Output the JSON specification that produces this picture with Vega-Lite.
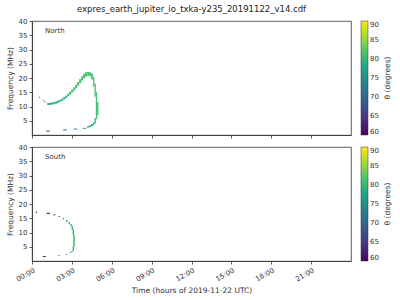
{
  "$schema": "https://vega.github.io/schema/vega-lite/v6.json",
  "padding": {"left": 5, "top": 4, "right": 5, "bottom": 5},
  "datasets": {
    "north": [
      {"t0": 0.0, "t1": 0.12, "f0": 14.1, "f1": 14.45, "theta": 71},
      {"t0": 0.52, "t1": 0.6, "f0": 13.1, "f1": 13.45, "theta": 72},
      {"t0": 0.8, "t1": 0.88, "f0": 12.1, "f1": 12.45, "theta": 73},
      {"t0": 0.93, "t1": 1.02, "f0": 11.5, "f1": 11.9, "theta": 75},
      {"t0": 1.15, "t1": 1.3, "f0": 10.5, "f1": 11.2, "theta": 77},
      {"t0": 1.3, "t1": 1.45, "f0": 10.6, "f1": 11.3, "theta": 77},
      {"t0": 1.45, "t1": 1.6, "f0": 10.7, "f1": 11.4, "theta": 78},
      {"t0": 1.6, "t1": 1.75, "f0": 10.8, "f1": 11.6, "theta": 78},
      {"t0": 1.75, "t1": 1.9, "f0": 11.0, "f1": 11.8, "theta": 79},
      {"t0": 1.9, "t1": 2.05, "f0": 11.3, "f1": 12.1, "theta": 79},
      {"t0": 2.05, "t1": 2.2, "f0": 11.6, "f1": 12.4, "theta": 80},
      {"t0": 2.2, "t1": 2.35, "f0": 12.0, "f1": 12.8, "theta": 80},
      {"t0": 2.35, "t1": 2.5, "f0": 12.5, "f1": 13.3, "theta": 80},
      {"t0": 2.5, "t1": 2.65, "f0": 13.0, "f1": 13.8, "theta": 80},
      {"t0": 2.65, "t1": 2.8, "f0": 13.6, "f1": 14.5, "theta": 80},
      {"t0": 2.8, "t1": 2.95, "f0": 14.2, "f1": 15.2, "theta": 80},
      {"t0": 2.95, "t1": 3.1, "f0": 14.9, "f1": 15.9, "theta": 81},
      {"t0": 3.1, "t1": 3.25, "f0": 15.6, "f1": 16.7, "theta": 81},
      {"t0": 3.25, "t1": 3.4, "f0": 16.4, "f1": 17.6, "theta": 81},
      {"t0": 3.4, "t1": 3.55, "f0": 17.3, "f1": 18.6, "theta": 81},
      {"t0": 3.55, "t1": 3.7, "f0": 18.2, "f1": 19.6, "theta": 81},
      {"t0": 3.7, "t1": 3.85, "f0": 19.1, "f1": 20.6, "theta": 81},
      {"t0": 3.85, "t1": 4.0, "f0": 19.9, "f1": 21.4, "theta": 81},
      {"t0": 4.0, "t1": 4.15, "f0": 20.5, "f1": 22.0, "theta": 81},
      {"t0": 4.15, "t1": 4.3, "f0": 20.8, "f1": 22.1, "theta": 81},
      {"t0": 4.3, "t1": 4.45, "f0": 20.6, "f1": 22.0, "theta": 81},
      {"t0": 4.45, "t1": 4.6, "f0": 19.5, "f1": 21.5, "theta": 81},
      {"t0": 4.6, "t1": 4.7, "f0": 17.0, "f1": 20.2, "theta": 81},
      {"t0": 4.7, "t1": 4.8, "f0": 13.5, "f1": 18.0, "theta": 81},
      {"t0": 4.8, "t1": 4.9, "f0": 8.5, "f1": 15.0, "theta": 81},
      {"t0": 4.9, "t1": 5.0, "f0": 7.0, "f1": 11.5, "theta": 81},
      {"t0": 4.8, "t1": 4.9, "f0": 5.5, "f1": 8.5, "theta": 81},
      {"t0": 4.7, "t1": 4.8, "f0": 4.0, "f1": 6.0, "theta": 80},
      {"t0": 4.6, "t1": 4.7, "f0": 3.5, "f1": 4.6, "theta": 80},
      {"t0": 4.45, "t1": 4.6, "f0": 3.1, "f1": 3.9, "theta": 79},
      {"t0": 4.3, "t1": 4.45, "f0": 2.8, "f1": 3.4, "theta": 78},
      {"t0": 4.15, "t1": 4.3, "f0": 2.6, "f1": 3.1, "theta": 77},
      {"t0": 3.8, "t1": 4.1, "f0": 2.2, "f1": 2.5, "theta": 76},
      {"t0": 3.15, "t1": 3.4, "f0": 1.9, "f1": 2.25, "theta": 73},
      {"t0": 2.35, "t1": 2.62, "f0": 1.6, "f1": 1.95, "theta": 70},
      {"t0": 1.05, "t1": 1.35, "f0": 1.2, "f1": 1.55, "theta": 67}
    ],
    "south": [
      {"t0": 0.28, "t1": 0.38, "f0": 16.9, "f1": 17.3, "theta": 61},
      {"t0": 1.1, "t1": 1.35, "f0": 16.5, "f1": 16.9, "theta": 62},
      {"t0": 1.62, "t1": 1.75, "f0": 16.0, "f1": 16.4, "theta": 65},
      {"t0": 2.0, "t1": 2.1, "f0": 15.4, "f1": 15.8, "theta": 68},
      {"t0": 2.3, "t1": 2.4, "f0": 14.6, "f1": 15.0, "theta": 71},
      {"t0": 2.55, "t1": 2.68, "f0": 13.8, "f1": 14.3, "theta": 73},
      {"t0": 2.75, "t1": 2.85, "f0": 13.0, "f1": 13.6, "theta": 75},
      {"t0": 2.88, "t1": 2.98, "f0": 12.2, "f1": 13.0, "theta": 77},
      {"t0": 2.98, "t1": 3.08, "f0": 11.0, "f1": 12.3, "theta": 79},
      {"t0": 3.06, "t1": 3.16, "f0": 9.0, "f1": 11.2, "theta": 80},
      {"t0": 3.1, "t1": 3.22, "f0": 5.0, "f1": 9.2, "theta": 81},
      {"t0": 3.06, "t1": 3.16, "f0": 3.6, "f1": 5.2, "theta": 80},
      {"t0": 2.98, "t1": 3.06, "f0": 3.2, "f1": 3.7, "theta": 78},
      {"t0": 2.85, "t1": 2.95, "f0": 2.8, "f1": 3.2, "theta": 76},
      {"t0": 2.55, "t1": 2.65, "f0": 2.2, "f1": 2.5, "theta": 72},
      {"t0": 1.98, "t1": 2.08, "f0": 1.8, "f1": 2.1, "theta": 65},
      {"t0": 0.8, "t1": 1.05, "f0": 1.4, "f1": 1.7, "theta": 61}
    ],
    "labelN": [{"label": "North", "t": 0.98, "f": 36.4}],
    "labelS": [{"label": "South", "t": 0.98, "f": 36.4}]
  },
  "config": {
    "font": "DejaVu Sans",
    "view": {"stroke": "#333", "strokeWidth": 0.8},
    "axis": {
      "domainColor": "#333", "tickColor": "#333", "labelColor": "#333", "titleColor": "#333",
      "labelFontSize": 7, "titleFontSize": 7.5, "titleFontWeight": "normal",
      "tickSize": 3, "grid": false, "labelPadding": 2, "domainWidth": 0.8, "tickWidth": 0.8,
      "labelOverlap": false, "labelBound": false, "labelFlush": false, "tickCount": 20
    },
    "legend": {
      "gradientLength": 114, "gradientThickness": 7, "labelFontSize": 7,
      "titleFontSize": 7.5, "titleFontWeight": "normal", "titleOrient": "right",
      "offset": 10, "padding": 0, "labelColor": "#333", "titleColor": "#333",
      "gradientStrokeColor": "#333", "gradientStrokeWidth": 0.5, "labelOverlap": false
    }
  },
  "spacing": 3,
  "resolve": {"scale": {"color": "independent"}, "legend": {"color": "independent"}},
  "vconcat": [
    {
      "width": 319, "height": 114,
      "title": {"text": "expres_earth_jupiter_io_txka-y235_20191122_v14.cdf", "fontSize": 8.5, "fontWeight": "normal", "anchor": "middle", "frame": "group", "offset": 4, "color": "#222"},
      "layer": [
        {
          "data": {"name": "north"},
          "mark": {"type": "rect"},
          "encoding": {
            "x": {"field": "t0", "type": "quantitative", "scale": {"domain": [0, 24], "nice": false}, "axis": {"values": [0, 3, 6, 9, 12, 15, 18, 21], "tickCount": 20, "labels": false, "title": null}},
            "x2": {"field": "t1"},
            "y": {"field": "f0", "type": "quantitative", "scale": {"domain": [0, 40], "nice": false}, "axis": {"values": [5, 10, 15, 20, 25, 30, 35, 40], "tickCount": 20, "title": "Frequency (MHz)"}},
            "y2": {"field": "f1"},
            "color": {"field": "theta", "type": "quantitative", "scale": {"scheme": "viridis", "domain": [60, 90]}, "legend": {"title": "θ (degrees)", "values": [60, 65, 70, 75, 80, 85, 90], "encoding": {"title": {"angle": {"value": -90}, "baseline": {"value": "top"}}}}}
          }
        },
        {
          "data": {"name": "labelN"},
          "mark": {"type": "text", "align": "left", "baseline": "middle", "fontSize": 7, "color": "#333"},
          "encoding": {
            "x": {"field": "t", "type": "quantitative"},
            "y": {"field": "f", "type": "quantitative"},
            "text": {"field": "label"}
          }
        }
      ]
    },
    {
      "width": 319, "height": 114,
      "layer": [
        {
          "data": {"name": "south"},
          "mark": {"type": "rect"},
          "encoding": {
            "x": {"field": "t0", "type": "quantitative", "scale": {"domain": [0, 24], "nice": false}, "axis": {"values": [0, 3, 6, 9, 12, 15, 18, 21], "tickCount": 20, "title": "Time (hours of 2019-11-22 UTC)", "labelAngle": -30, "labelAlign": "right", "labelBaseline": "top", "labelExpr": "(datum.value < 10 ? '0' : '') + datum.value + ':00'"}},
            "x2": {"field": "t1"},
            "y": {"field": "f0", "type": "quantitative", "scale": {"domain": [0, 40], "nice": false}, "axis": {"values": [5, 10, 15, 20, 25, 30, 35, 40], "tickCount": 20, "title": "Frequency (MHz)"}},
            "y2": {"field": "f1"},
            "color": {"field": "theta", "type": "quantitative", "scale": {"scheme": "viridis", "domain": [60, 90]}, "legend": {"title": "θ (degrees)", "values": [60, 65, 70, 75, 80, 85, 90], "encoding": {"title": {"angle": {"value": -90}, "baseline": {"value": "top"}}}}}
          }
        },
        {
          "data": {"name": "labelS"},
          "mark": {"type": "text", "align": "left", "baseline": "middle", "fontSize": 7, "color": "#333"},
          "encoding": {
            "x": {"field": "t", "type": "quantitative"},
            "y": {"field": "f", "type": "quantitative"},
            "text": {"field": "label"}
          }
        }
      ]
    }
  ]
}
